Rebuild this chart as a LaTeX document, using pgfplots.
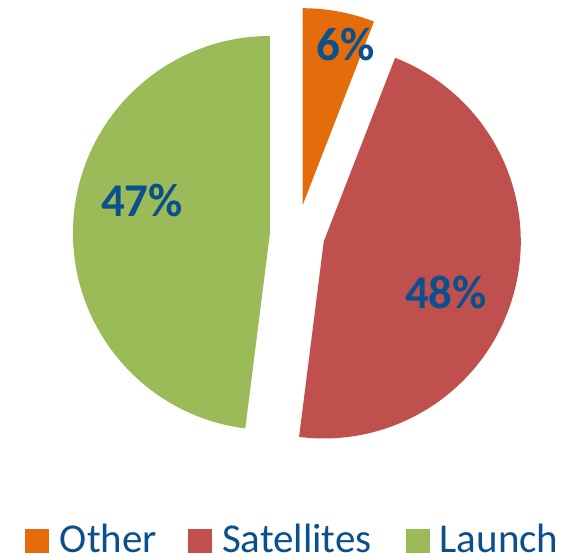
\documentclass[border=0pt]{standalone}
\usepackage{fontspec}
\setmainfont{Carlito}
\usepackage{pgfplots}
\usepackage{pgfplotstable}
\pgfplotsset{compat=1.18}
\definecolor{cOther}{HTML}{E46C0A}
\definecolor{cSat}{HTML}{C0504D}
\definecolor{cLaunch}{HTML}{9BBB59}
\definecolor{labblue}{RGB}{11,80,140}

% share of each slice (as drawn), explode offset, label position and label text
\pgfplotstableread{
name value explode lx ly label
Other 5.9 30.0 345.5 514 6
Satellites 46.1 27.5 446 266 48
Launch 48.0 27.2 142 358 47
}\piedata

\newcommand\slice[4]{% colour, start angle, end angle, explode
  \pgfmathsetmacro\midA{(#2+#3)/2}%
  \pgfmathsetmacro\cx{297.1+#4*cos(\midA)}%
  \pgfmathsetmacro\cy{323.3+#4*sin(\midA)}%
  \edef\temp{\noexpand\fill[#1] (axis cs:\cx,\cy) -- ++(#2:197pt) arc[start angle=#2, end angle=#3, radius=197pt] -- cycle;}%
  \temp}

\begin{document}
\begin{tikzpicture}
\pgfplotstablegetelem{0}{value}\of\piedata \let\vA\pgfplotsretval
\pgfplotstablegetelem{1}{value}\of\piedata \let\vB\pgfplotsretval
\pgfplotstablegetelem{2}{value}\of\piedata \let\vC\pgfplotsretval
\pgfplotstablegetelem{0}{explode}\of\piedata \let\eA\pgfplotsretval
\pgfplotstablegetelem{1}{explode}\of\piedata \let\eB\pgfplotsretval
\pgfplotstablegetelem{2}{explode}\of\piedata \let\eC\pgfplotsretval
\pgfmathsetmacro\total{\vA+\vB+\vC}
\pgfmathsetmacro\aA{90}
\pgfmathsetmacro\aB{\aA-360*(\vA/\total)}
\pgfmathsetmacro\aC{\aB-360*(\vB/\total)}
\pgfmathsetmacro\aD{\aC-360*(\vC/\total)}
\begin{axis}[
  x=1pt, y=1pt,
  xmin=0, xmax=570, ymin=0, ymax=558,
  hide axis, clip=false,
]
\path (axis cs:0,0) rectangle (axis cs:570,558);
\slice{cOther}{\aA}{\aB}{\eA}
\slice{cSat}{\aB}{\aC}{\eB}
\slice{cLaunch}{\aC}{\aD}{\eC}

\addplot[only marks, mark=none, point meta=explicit symbolic,
  nodes near coords={\pgfplotspointmeta\%},
  nodes near coords align=center,
  every node near coord/.append style={font=\bfseries\fontsize{47}{50}\selectfont, text=labblue, anchor=center, inner sep=0pt}]
  table[x=lx, y=ly, meta=label]{\piedata};

% legend
\fill[cOther] (axis cs:25,5.3) rectangle (axis cs:49,29);
\node[anchor=base west, inner sep=0pt, text=labblue, font=\fontsize{41}{44}\selectfont] at (axis cs:59.7,5.5) {Other};
\fill[cSat] (axis cs:188.3,5.3) rectangle (axis cs:211.7,29);
\node[anchor=base west, inner sep=0pt, text=labblue, font=\fontsize{41}{44}\selectfont] at (axis cs:221.8,5.5) {Satellites};
\fill[cLaunch] (axis cs:406,5.3) rectangle (axis cs:430,29);
\node[anchor=base west, inner sep=0pt, text=labblue, font=\fontsize{41}{44}\selectfont] at (axis cs:439.5,5.5) {Launch};
\end{axis}
\end{tikzpicture}
\end{document}
